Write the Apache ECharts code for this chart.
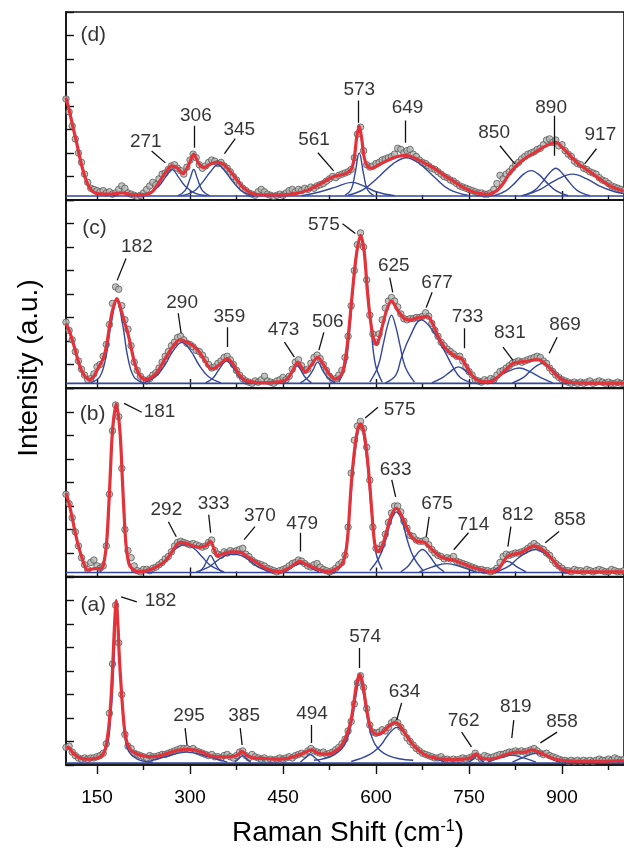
<!DOCTYPE html>
<html><head><meta charset="utf-8">
<script src="https://cdn.jsdelivr.net/npm/echarts@6/dist/echarts.min.js"></script>
<style>html,body{margin:0;padding:0;background:#fff}#c{width:624px;height:853px}</style>
</head><body><div id="c"></div>
<script>
// ---------- axis ticks ----------
const majorTicks = [150, 300, 450, 600, 750, 900];
const minorTicks = [225, 375, 525, 675, 825, 975];
const panelNames = ['(d)', '(c)', '(b)', '(a)'];
const panelTagPos = [[144, 7.0], [146, 6.82], [143, 6.91], [144, 6.81]];
const baselines = [0.17, 0.2, 0.17, 0.08];
const circleStart = 100, circleStep = 5;

// ---------- experimental points (every 5 cm-1 from 100) ----------
const circlesD = [4.3,3.75,3.15,2.6,2.0,1.6,1.1,0.75,0.5,0.45,
0.4,0.35,0.4,0.3,0.35,0.25,0.3,0.45,0.6,0.5,
0.3,0.25,0.2,0.15,0.2,0.3,0.45,0.6,0.75,0.65,
0.9,1.1,1.15,1.3,1.45,1.5,1.35,1.25,1.1,1.4,
1.7,1.95,1.8,1.5,1.35,1.45,1.6,1.7,1.65,1.55,
1.6,1.45,1.35,1.2,1.0,0.85,0.65,0.5,0.4,0.3,
0.25,0.2,0.35,0.45,0.35,0.25,0.2,0.15,0.2,0.25,
0.2,0.3,0.4,0.45,0.35,0.45,0.4,0.5,0.45,0.55,
0.5,0.6,0.65,0.7,0.8,0.9,1.0,0.95,1.05,1.1,
1.15,1.2,1.3,1.8,2.8,3.1,2.1,1.5,1.4,1.45,
1.55,1.6,1.7,1.75,1.8,1.85,1.95,2.2,2.15,2.0,
2.1,2.15,1.95,1.85,1.7,1.6,1.55,1.45,1.35,1.3,
1.2,1.1,1.0,0.95,0.85,0.8,0.7,0.6,0.55,0.5,
0.45,0.4,0.35,0.3,0.3,0.25,0.25,0.3,0.45,0.7,
1.05,0.9,1.1,1.2,1.35,1.5,1.6,1.75,1.85,1.95,
2.0,2.05,2.15,2.2,2.35,2.55,2.6,2.45,2.55,2.3,
2.35,2.1,1.95,1.85,1.65,1.55,1.5,1.35,1.3,1.2,
1.15,1.1,0.95,0.85,0.8,0.7,0.6,0.55,0.5,0.45,
0.4];
const circlesC = [2.8,2.45,2.05,1.55,1.15,0.8,0.55,0.35,0.4,0.6,
0.9,1.0,1.35,1.85,2.7,3.6,4.3,4.2,3.5,2.9,
2.5,1.8,1.1,0.75,0.5,0.35,0.3,0.4,0.55,0.65,
0.85,1.1,1.35,1.55,1.8,1.95,2.15,2.2,2.05,1.9,
1.85,1.75,1.6,1.55,1.4,1.2,1.0,0.85,0.9,1.05,
1.15,1.3,1.35,1.2,1.0,0.75,0.55,0.4,0.3,0.25,
0.2,0.3,0.25,0.35,0.5,0.3,0.25,0.2,0.3,0.35,
0.45,0.35,0.5,0.8,1.1,1.2,0.95,0.75,0.8,1.05,
1.3,1.4,1.25,1.0,0.75,0.5,0.35,0.4,0.55,0.75,
1.3,2.2,3.5,5.0,6.1,6.6,6.0,4.6,3.1,2.3,
1.95,2.3,2.9,3.4,3.7,3.85,3.7,3.45,3.15,2.95,
2.9,2.95,2.95,3.0,3.0,3.05,3.2,3.05,2.75,2.45,
2.2,1.95,1.8,1.65,1.55,1.45,1.35,1.35,1.15,0.9,
0.7,0.55,0.35,0.3,0.25,0.35,0.3,0.4,0.35,0.55,
0.7,0.75,0.85,0.95,1.05,1.1,1.15,1.1,1.15,1.2,
1.25,1.3,1.35,1.3,1.15,1.05,0.85,0.7,0.55,0.45,
0.35,0.3,0.25,0.2,0.25,0.2,0.25,0.2,0.25,0.3,
0.2,0.25,0.3,0.25,0.2,0.25,0.2,0.2,0.25,0.2,
0.2];
const circlesB = [3.5,3.1,2.5,1.9,1.3,0.8,0.5,0.3,0.6,0.7,
0.45,0.35,0.45,1.3,3.5,6.2,7.3,6.8,4.6,2.0,
1.1,0.8,0.45,0.25,0.2,0.3,0.3,0.25,0.35,0.4,
0.5,0.6,0.75,0.85,1.05,1.3,1.45,1.5,1.45,1.4,
1.35,1.4,1.35,1.3,1.25,1.3,1.45,1.55,1.1,0.95,
0.9,1.05,1.0,1.1,1.05,1.1,1.15,1.2,0.95,0.85,
0.7,0.6,0.55,0.5,0.45,0.35,0.3,0.25,0.2,0.25,
0.3,0.35,0.45,0.55,0.6,0.7,0.65,0.55,0.45,0.4,
0.5,0.55,0.4,0.3,0.25,0.2,0.25,0.35,0.5,0.6,
0.9,2.1,4.4,5.8,6.4,6.6,6.3,5.5,4.1,2.1,
1.2,1.15,1.35,1.8,2.3,2.7,3.0,3.0,2.75,2.35,
2.05,1.75,1.7,1.55,1.5,1.5,1.55,1.35,1.15,1.0,
0.9,0.85,0.75,0.8,0.75,0.85,0.65,0.6,0.55,0.5,
0.45,0.4,0.35,0.3,0.3,0.25,0.25,0.2,0.25,0.35,
0.6,0.85,0.95,0.9,0.95,1.0,1.0,1.05,1.1,1.2,
1.3,1.4,1.3,1.2,1.15,1.0,0.9,0.7,0.55,0.45,
0.35,0.25,0.25,0.2,0.3,0.25,0.25,0.2,0.3,0.25,
0.2,0.25,0.3,0.25,0.2,0.2,0.3,0.25,0.2,0.2,
0.25];
const circlesA = [0.75,0.8,0.55,0.4,0.3,0.25,0.3,0.25,0.3,0.3,
0.35,0.4,0.5,0.9,2.2,4.3,6.8,5.2,3.0,1.3,
0.8,0.7,0.5,0.45,0.4,0.35,0.3,0.4,0.35,0.35,
0.4,0.45,0.45,0.5,0.55,0.6,0.65,0.7,0.7,0.7,
0.65,0.7,0.6,0.55,0.5,0.45,0.4,0.45,0.35,0.35,
0.3,0.4,0.45,0.35,0.3,0.4,0.55,0.6,0.4,0.3,
0.45,0.35,0.3,0.25,0.3,0.2,0.25,0.2,0.25,0.3,
0.25,0.3,0.35,0.3,0.4,0.45,0.5,0.45,0.6,0.7,
0.6,0.55,0.5,0.55,0.45,0.5,0.55,0.65,0.75,0.9,
1.1,1.45,1.85,2.6,3.5,3.8,3.3,2.4,1.7,1.4,
1.35,1.4,1.5,1.45,1.6,1.8,1.9,1.8,1.6,1.4,
1.15,1.0,0.85,0.7,0.6,0.5,0.45,0.4,0.35,0.3,
0.3,0.35,0.25,0.25,0.2,0.25,0.2,0.25,0.3,0.25,
0.3,0.35,0.5,0.35,0.25,0.4,0.35,0.3,0.35,0.4,
0.45,0.45,0.5,0.55,0.55,0.6,0.55,0.6,0.55,0.6,
0.65,0.7,0.6,0.5,0.45,0.5,0.4,0.35,0.3,0.25,
0.2,0.2,0.15,0.2,0.15,0.2,0.15,0.2,0.15,0.2,
0.15,0.2,0.25,0.2,0.2,0.25,0.2,0.3,0.25,0.2,
0.25];

// ---------- cumulative fits [shift, intensity] ----------
const fitD = [[100,4.35],[105,3.85],[110,3.25],[117,2.45],[125,1.5],[133,0.8],[140,0.45],[150,0.27],[170,0.25],[190,0.3],[210,0.22],[230,0.24],[240,0.38],[250,0.75],[260,1.15],[271,1.45],[280,1.35],[289,1.12],[298,1.5],[306,1.95],[314,1.55],[322,1.38],[335,1.55],[345,1.6],[355,1.5],[370,1.05],[385,0.55],[400,0.28],[420,0.22],[450,0.22],[470,0.27],[490,0.42],[510,0.68],[530,0.98],[550,1.12],[560,1.3],[565,1.8],[569,2.7],[573,3.15],[577,2.6],[581,1.8],[586,1.45],[593,1.35],[605,1.5],[620,1.7],[635,1.85],[649,1.9],[665,1.75],[680,1.55],[694,1.35],[710,1.05],[725,0.8],[740,0.55],[760,0.32],[780,0.24],[795,0.4],[805,0.7],[816,1.15],[830,1.55],[842,1.8],[855,2.0],[870,2.25],[884,2.42],[890,2.45],[900,2.25],[916,1.8],[928,1.5],[937,1.35],[950,1.1],[965,0.82],[980,0.57],[1000,0.38]];
const fitC = [[100,2.75],[105,2.45],[110,2.05],[115,1.6],[120,1.12],[125,0.75],[132,0.45],[138,0.36],[145,0.5],[152,0.85],[160,1.25],[165,1.75],[170,2.6],[175,3.3],[182,3.8],[189,3.3],[195,2.75],[200,2.3],[206,1.6],[212,0.95],[220,0.5],[228,0.36],[238,0.45],[249,0.75],[260,1.25],[272,1.75],[284,2.05],[295,1.95],[305,1.8],[313,1.6],[322,1.25],[334,0.82],[342,0.88],[350,1.05],[360,1.25],[370,1.0],[378,0.62],[387,0.36],[400,0.26],[420,0.22],[440,0.25],[455,0.35],[465,0.7],[474,1.1],[480,0.88],[486,0.68],[495,0.95],[506,1.3],[515,1.0],[525,0.58],[535,0.38],[545,0.6],[551,1.3],[556,2.4],[562,4.1],[568,5.6],[575,6.5],[581,5.8],[586,4.15],[591,2.9],[596,2.1],[601,1.85],[608,2.4],[617,3.3],[625,3.7],[635,3.3],[646,2.95],[655,2.9],[662,2.95],[672,3.0],[683,3.05],[692,2.7],[700,2.2],[710,1.75],[720,1.5],[730,1.32],[738,1.25],[746,0.92],[754,0.57],[762,0.36],[775,0.26],[790,0.32],[800,0.55],[810,0.8],[821,1.05],[831,1.1],[845,1.15],[855,1.2],[863,1.2],[872,1.05],[882,0.8],[893,0.5],[903,0.3],[911,0.25],[930,0.22],[960,0.21],[1000,0.21]];
const fitB = [[100,3.55],[105,3.1],[110,2.5],[115,1.85],[120,1.3],[125,0.85],[130,0.47],[135,0.27],[142,0.32],[150,0.35],[156,0.32],[160,0.45],[165,1.3],[168,2.5],[171,4.1],[175,6.2],[181,7.35],[187,6.2],[191,4.1],[194,2.5],[197,1.3],[202,0.5],[210,0.26],[217,0.2],[230,0.25],[245,0.4],[260,0.65],[272,1.1],[284,1.45],[295,1.4],[305,1.3],[315,1.25],[325,1.3],[333,1.5],[339,1.15],[344,0.88],[352,0.95],[366,1.05],[375,1.05],[384,1.0],[395,0.8],[407,0.6],[419,0.4],[432,0.25],[445,0.2],[455,0.3],[465,0.45],[477,0.65],[487,0.52],[500,0.37],[512,0.26],[524,0.2],[535,0.32],[545,0.5],[551,1.0],[555,1.9],[560,3.9],[565,5.3],[570,6.2],[575,6.5],[580,6.2],[585,5.3],[590,3.9],[594,2.5],[598,1.4],[603,1.05],[610,1.3],[617,1.9],[624,2.55],[633,2.9],[642,2.55],[650,2.05],[657,1.7],[666,1.5],[678,1.45],[690,1.15],[704,0.85],[714,0.75],[725,0.7],[740,0.55],[754,0.4],[768,0.3],[785,0.2],[797,0.3],[805,0.6],[812,0.85],[822,0.95],[832,1.0],[843,1.15],[855,1.3],[865,1.2],[875,1.0],[885,0.7],[895,0.4],[905,0.25],[920,0.2],[950,0.2],[1000,0.2]];
const fitA = [[100,0.7],[104,0.75],[110,0.55],[116,0.4],[122,0.3],[135,0.25],[150,0.3],[158,0.4],[163,0.65],[167,1.2],[170,1.9],[173,3.0],[176,4.6],[178,5.8],[181,7.0],[184,5.8],[186,4.6],[189,3.3],[192,2.2],[195,1.4],[199,0.9],[205,0.62],[212,0.5],[220,0.42],[232,0.36],[245,0.36],[258,0.45],[270,0.55],[282,0.64],[292,0.67],[305,0.65],[318,0.55],[330,0.42],[342,0.35],[356,0.35],[368,0.36],[377,0.42],[384,0.58],[391,0.42],[402,0.3],[420,0.28],[435,0.25],[450,0.26],[462,0.32],[474,0.42],[485,0.52],[495,0.65],[505,0.52],[515,0.46],[525,0.47],[535,0.6],[545,0.85],[553,1.3],[559,1.8],[564,2.6],[569,3.5],[574,3.85],[578,3.55],[583,2.7],[589,1.8],[595,1.4],[603,1.3],[612,1.42],[622,1.68],[630,1.8],[636,1.75],[645,1.42],[657,0.95],[670,0.6],[683,0.38],[697,0.3],[710,0.25],[725,0.22],[740,0.25],[752,0.3],[758,0.42],[762,0.47],[767,0.32],[780,0.25],[795,0.3],[805,0.4],[816,0.5],[828,0.55],[840,0.55],[852,0.65],[862,0.55],[875,0.4],[888,0.25],[900,0.2],[930,0.16],[960,0.16],[990,0.18],[1000,0.18]];

// ---------- fitted component bands [shift, intensity] ----------
const compsD = [
 [[215,0.18],[235,0.3],[250,0.6],[260,0.95],[271,1.3],[282,0.95],[292,0.6],[307,0.3],[327,0.18]],
 [[280,0.18],[292,0.4],[300,0.9],[306,1.3],[312,0.9],[320,0.4],[332,0.18]],
 [[285,0.18],[305,0.35],[320,0.75],[333,1.2],[345,1.5],[357,1.2],[370,0.75],[385,0.35],[405,0.18]],
 [[480,0.18],[510,0.35],[535,0.55],[561,0.75],[580,0.6],[600,0.35],[630,0.18]],
 [[550,0.2],[560,0.45],[566,1.1],[573,2.0],[580,1.1],[586,0.45],[596,0.2]],
 [[555,0.2],[580,0.45],[605,1.0],[628,1.55],[649,1.8],[670,1.55],[693,1.0],[718,0.45],[748,0.2]],
 [[790,0.18],[810,0.4],[825,0.75],[838,1.1],[850,1.25],[862,1.1],[875,0.75],[890,0.4],[910,0.18]],
 [[835,0.18],[855,0.4],[868,0.75],[880,1.15],[890,1.35],[900,1.15],[912,0.75],[925,0.4],[945,0.18]],
 [[840,0.2],[865,0.45],[890,0.85],[917,1.1],[940,0.9],[960,0.6],[985,0.35],[1000,0.27]]
];
const compsC = [
 [[140,0.22],[155,0.5],[165,1.4],[172,2.6],[182,3.7],[192,2.6],[199,1.4],[209,0.5],[224,0.22]],
 [[225,0.22],[245,0.5],[260,1.0],[272,1.55],[287,1.95],[302,1.55],[314,1.0],[329,0.5],[350,0.22]],
 [[325,0.22],[338,0.45],[347,0.8],[359,1.15],[371,0.8],[380,0.45],[393,0.22]],
 [[450,0.22],[460,0.45],[466,0.7],[473,0.95],[480,0.7],[486,0.45],[496,0.22]],
 [[478,0.22],[490,0.45],[498,0.75],[506,1.1],[514,0.75],[522,0.45],[534,0.22]],
 [[540,0.25],[551,1.0],[558,2.6],[565,4.7],[575,6.4],[585,4.7],[592,2.6],[599,1.0],[610,0.25]],
 [[590,0.25],[603,0.9],[612,1.9],[618,2.6],[625,3.1],[632,2.6],[638,1.9],[647,0.9],[662,0.25]],
 [[615,0.22],[632,0.55],[641,1.3],[655,2.2],[673,2.9],[690,2.5],[710,1.6],[724,0.9],[736,0.45],[755,0.22]],
 [[690,0.22],[708,0.45],[720,0.7],[733,0.9],[746,0.7],[758,0.45],[776,0.22]],
 [[775,0.22],[795,0.45],[812,0.7],[831,0.85],[848,0.7],[865,0.45],[885,0.22]],
 [[820,0.22],[838,0.45],[852,0.8],[869,1.05],[884,0.8],[897,0.45],[915,0.22]]
];
const compsB = [
 [[155,0.2],[165,1.2],[170,3.3],[175,6.0],[181,7.2],[187,6.0],[192,3.3],[197,1.2],[207,0.2]],
 [[230,0.2],[250,0.45],[265,0.85],[278,1.2],[292,1.35],[306,1.2],[319,0.85],[334,0.45],[355,0.2]],
 [[315,0.2],[322,0.4],[327,0.65],[333,0.9],[339,0.65],[344,0.4],[351,0.2]],
 [[310,0.2],[330,0.4],[345,0.7],[358,0.9],[370,0.95],[382,0.9],[395,0.7],[410,0.4],[430,0.2]],
 [[450,0.2],[462,0.35],[470,0.48],[479,0.55],[488,0.48],[496,0.35],[508,0.2]],
 [[540,0.3],[550,1.0],[558,2.9],[565,5.0],[575,6.4],[585,5.0],[592,2.9],[600,1.0],[610,0.3]],
 [[590,0.25],[605,0.8],[615,1.5],[624,2.35],[633,2.75],[642,2.35],[651,1.5],[661,0.8],[676,0.25]],
 [[640,0.2],[652,0.45],[663,0.85],[675,1.15],[687,0.85],[698,0.45],[710,0.2]],
 [[670,0.2],[690,0.4],[714,0.55],[738,0.4],[760,0.2]],
 [[785,0.2],[798,0.4],[805,0.55],[812,0.65],[820,0.55],[828,0.4],[842,0.2]],
 [[795,0.2],[815,0.45],[830,0.8],[845,1.05],[858,1.15],[871,1.0],[885,0.7],[900,0.35],[920,0.2]]
];
const compsA = [
 [[150,0.25],[165,0.7],[172,2.0],[177,4.2],[182,6.9],[187,4.2],[192,2.0],[199,0.7],[215,0.25],[240,0.12]],
 [[230,0.12],[260,0.35],[295,0.55],[330,0.35],[360,0.12]],
 [[372,0.12],[378,0.25],[385,0.4],[392,0.25],[398,0.12]],
 [[478,0.12],[486,0.3],[494,0.45],[502,0.3],[510,0.12]],
 [[500,0.2],[530,0.4],[550,0.9],[562,2.0],[568,3.0],[574,3.7],[580,3.0],[586,2.0],[598,0.9],[620,0.4],[660,0.2]],
 [[560,0.15],[590,0.45],[608,0.85],[620,1.3],[634,1.6],[648,1.3],[660,0.85],[678,0.45],[710,0.15]],
 [[750,0.12],[756,0.25],[762,0.4],[768,0.25],[774,0.12]],
 [[780,0.12],[800,0.3],[819,0.42],[838,0.3],[858,0.12]],
 [[820,0.12],[840,0.35],[858,0.5],[876,0.35],[896,0.12]]
];

// ---------- peak annotations: [text, x, y] and leader lines [x1,y1,x2,y2] ----------
const labelsD = [['271',228.6,2.48],['306',309.5,3.59],['345',379.4,2.99],['561',500,2.56],['573',573,4.70],['649',650.8,3.93],['850',790.5,2.86],['890',882.5,3.93],['917',961.9,2.78]];
const leadersD = [[238.1,2.09,260.3,1.58],[306.3,3.16,306.3,2.22],[373,2.61,355.6,1.97],[506.3,2.01,531.7,1.24],[571.4,4.23,571.4,3.29],[647.6,3.38,647.6,2.44],[800,2.31,823.8,1.54],[887.3,3.59,887.3,1.88],[955.6,2.18,936.5,1.54]];
const labelsC = [['182',214.3,6.02],['290',287.3,3.64],['359',363.5,3.05],['473',450.8,2.46],['506',522.2,2.80],['575',515.9,6.95],['625',628.6,5.21],['677',698.4,4.49],['733',747.6,3.05],['831',815.9,2.37],['869',904.8,2.71]];
const leadersC = [[196.8,5.51,182.5,4.58],[281,3.18,285.7,2.33],[360.3,2.58,360.3,1.74],[452.4,1.95,468.3,1.31],[515.9,2.37,507.9,1.61],[546,6.99,566.7,6.57],[622.2,4.70,627,4.07],[690.5,4.07,681,3.43],[742.9,2.54,742.9,1.69],[804.8,1.74,820.6,1.19],[892.1,2.16,879.4,1.48]];
const labelsB = [['181',250.8,7.03],['292',261.9,2.84],['333',338.1,3.09],['370',412.7,2.58],['479',481,2.25],['575',638.1,7.08],['633',631.7,4.53],['675',698.4,3.09],['714',757.1,2.20],['812',828.6,2.63],['858',912.7,2.42]];
const leadersB = [[193.7,7.37,222.2,6.99],[265.1,2.33,277.8,1.69],[330.2,2.63,333.3,1.86],[404.8,2.12,387.3,1.57],[477.8,1.86,477.8,1.06],[603.2,7.20,582.5,6.74],[625.4,4.11,631.7,3.39],[685.7,2.54,681,1.69],[749.2,1.86,725.4,1.14],[817.5,2.12,812.7,1.27],[895.2,1.91,873,1.44]];
const labelsA = [['182',252.4,6.98],['295',298.4,2.09],['385',387.3,2.09],['494',496.8,2.17],['574',582.5,5.45],['634',646,3.11],['762',741.3,1.87],['819',825.4,2.47],['858',900,1.83]];
const leadersA = [[188.9,7.15,214.3,6.94],[292.1,1.57,295.2,0.85],[381,1.57,384.1,0.85],[495.2,1.70,495.2,0.94],[573,4.98,573,4.13],[641.3,2.64,633.3,1.91],[738.1,1.40,754,0.77],[822.2,1.91,819,1.15],[892.1,1.40,865.1,0.94]];

// ---------- build ----------
const FONT = '"Liberation Sans", Arial, Helvetica, sans-serif';
const RED = '#e3323a', BLUE = '#34479a', INK = '#111111';
const panels = [
  {fit: fitD, circles: circlesD, comps: compsD, labels: labelsD, leaders: leadersD},
  {fit: fitC, circles: circlesC, comps: compsC, labels: labelsC, leaders: leadersC},
  {fit: fitB, circles: circlesB, comps: compsB, labels: labelsB, leaders: leadersB},
  {fit: fitA, circles: circlesA, comps: compsA, labels: labelsA, leaders: leadersA}
];
const gridTops = [12, 200, 388.5, 577];
const grids = [], xAxes = [], yAxes = [], series = [];
panels.forEach((p, i) => {
  grids.push({left: 66, top: gridTops[i], width: 567, height: 188, show: true,
    borderColor: INK, borderWidth: 1.6, backgroundColor: 'transparent'});
  const inside = i < 3;
  xAxes.push({gridIndex: i, type: 'value', min: 100, max: 1000, position: 'bottom',
    axisLine: {show: true, onZero: false, lineStyle: {color: INK, width: 1.6}},
    axisTick: {show: true, inside: inside, length: 9, customValues: majorTicks, lineStyle: {color: INK, width: 1.4}},
    axisLabel: {show: i === 3, customValues: majorTicks, fontSize: 19, color: '#000', margin: 23, fontFamily: FONT},
    splitLine: {show: false}});
  xAxes.push({gridIndex: i, type: 'value', min: 100, max: 1000, position: 'bottom',
    axisLine: {show: false},
    axisTick: {show: true, inside: inside, length: 5, customValues: minorTicks, lineStyle: {color: INK, width: 1.4}},
    axisLabel: {show: false}, splitLine: {show: false}});
  yAxes.push({gridIndex: i, type: 'value', min: 0, max: 8, interval: 1,
    axisLine: {show: true, onZero: false, lineStyle: {color: INK, width: 1.6}},
    axisTick: {show: true, inside: true, length: 8, lineStyle: {color: INK, width: 1.4}},
    axisLabel: {show: false}, splitLine: {show: false}});
  const xi = i * 2;
  series.push({type: 'scatter', xAxisIndex: xi, yAxisIndex: i, silent: true, z: 2,
    data: p.circles.map((v, k) => [circleStart + k * circleStep, v]),
    symbol: 'circle', symbolSize: 6.5,
    itemStyle: {color: '#b3b6b3', borderColor: '#4a4c4a', borderWidth: 0.9}});
  series.push({type: 'line', xAxisIndex: xi, yAxisIndex: i, silent: true, z: 3,
    data: [[100, baselines[i]], [1000, baselines[i]]], showSymbol: false,
    lineStyle: {color: BLUE, width: 1.7}});
  p.comps.forEach(c => series.push({type: 'line', xAxisIndex: xi, yAxisIndex: i, silent: true, z: 3,
    data: c, smooth: 0.4, showSymbol: false, lineStyle: {color: BLUE, width: 1.4}}));
  series.push({type: 'line', xAxisIndex: xi, yAxisIndex: i, silent: true, z: 4,
    data: p.fit, smooth: 0.3, showSymbol: false, lineStyle: {color: RED, width: 3.2}});
  series.push({type: 'lines', coordinateSystem: 'cartesian2d', xAxisIndex: xi, yAxisIndex: i, silent: true, z: 5,
    data: p.leaders.map(l => ({coords: [[l[0], l[1]], [l[2], l[3]]]})),
    lineStyle: {color: INK, width: 1.3, opacity: 1}});
  series.push({type: 'scatter', xAxisIndex: xi, yAxisIndex: i, silent: true, z: 6,
    data: p.labels.map(l => ({name: l[0], value: [l[1], l[2]]})),
    symbolSize: 0.1, itemStyle: {color: 'rgba(0,0,0,0)'},
    label: {show: true, position: 'inside', formatter: '{b}', fontSize: 19, color: '#000', fontFamily: FONT}});
  series.push({type: 'scatter', xAxisIndex: xi, yAxisIndex: i, silent: true, z: 6,
    data: [{name: panelNames[i], value: panelTagPos[i]}],
    symbolSize: 0.1, itemStyle: {color: 'rgba(0,0,0,0)'},
    label: {show: true, position: 'inside', formatter: '{b}', fontSize: 21, color: '#000', fontFamily: FONT}});
});

const chart = echarts.init(document.getElementById('c'), null, {renderer: 'canvas'});
chart.setOption({
  animation: false,
  backgroundColor: '#ffffff',
  grid: grids, xAxis: xAxes, yAxis: yAxes, series: series,
  graphic: [
    {type: 'text', x: 29, y: 368, rotation: Math.PI / 2,
      style: {text: 'Intensity (a.u.)', font: '28px ' + FONT, fill: '#000', align: 'center', verticalAlign: 'middle'}},
    {type: 'text', x: 348, y: 833,
      style: {text: '{m|Raman Shift (cm}{s|-1}{m|)}', align: 'center', verticalAlign: 'middle', fill: '#000',
        rich: {m: {fontSize: 28, fontFamily: FONT, fill: '#000'}, s: {fontSize: 16, fontFamily: FONT, fill: '#000', verticalAlign: 'top'}}}}
  ]
});
</script></body></html>
